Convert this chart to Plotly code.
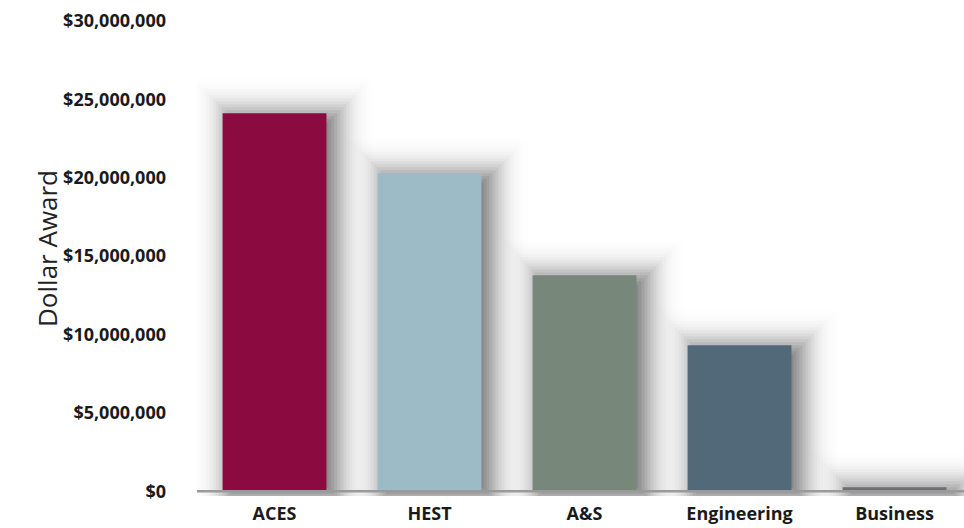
import math
import plotly.graph_objects as go

categories = ["ACES", "HEST", "A&S", "Engineering", "Business"]
awards = [24120000, 20290000, 13780000, 9320000, 260000]
colors = ["#8B0B41", "#9DBBC6", "#77887A", "#526979", "#6E6E73"]
tick_values = [0, 5000000, 10000000, 15000000, 20000000, 25000000, 30000000]
tick_labels = ["$0", "$5,000,000", "$10,000,000", "$15,000,000", "$20,000,000", "$25,000,000", "$30,000,000"]

fig = go.Figure()

bar_w = 0.67
# pixel -> axis unit conversions (plot: 155 px per category, ~15.67 px per $1M)
px_x = 1.0 / 155.0
px_y = 1e6 / 15.667

# soft drop shadow built from nested translucent bars
sigma = 16.0
dx, dy = 8.0, 3.0
amax = 0.66
step = 3.0
exps = [-45 + step * i for i in range(34)]  # expansions in px


def target(e):
    return amax * 0.5 * math.erfc(e / (sigma * math.sqrt(2)))


D = [target(e - step / 2) for e in exps] + [0.0]
alphas = []
for k in range(len(exps)):
    a = 1 - (1 - D[k]) / (1 - D[k + 1])
    alphas.append(max(a, 0.0))

for k in range(len(exps) - 1, -1, -1):
    e = exps[k]
    tops = [v - dy * px_y + e * px_y for v in awards]
    bottom = -dy * px_y - e * px_y
    heights = [max(t - bottom, 0) for t in tops]
    w = bar_w + 2 * e * px_x
    if w <= 0:
        continue
    fig.add_trace(go.Bar(
        x=categories,
        y=heights,
        base=[bottom] * len(awards),
        width=w,
        offset=-w / 2 + dx * px_x,
        marker=dict(color="black", opacity=alphas[k], line=dict(width=0)),
        hoverinfo="skip",
        showlegend=False,
    ))

fig.add_trace(go.Bar(
    x=categories,
    y=awards,
    width=bar_w,
    marker=dict(color=colors, line=dict(width=0)),
    showlegend=False,
))

fig.add_shape(type="line", xref="paper", yref="y", x0=0, x1=1, y0=0, y1=0,
              line=dict(color="#9A9A9A", width=2.5), layer="above")

fig.add_annotation(text="Dollar Award", xref="paper", yref="paper",
                   x=-0.2217, y=0.522, textangle=-90, showarrow=False,
                   font=dict(family="Open Sans, sans-serif", size=26, color="#222222"))

fig.update_layout(
    width=964, height=528,
    margin=dict(l=197, r=0, t=21, b=32),
    paper_bgcolor="white", plot_bgcolor="white",
    barmode="overlay",
    font=dict(family="Open Sans, sans-serif", color="#1a1a1a"),
    xaxis=dict(
        range=[-0.5, 4.448], automargin=False,
        showgrid=False, showline=False, zeroline=False,
        tickfont=dict(size=18, weight="bold", color="#1a1a1a"),
        ticks="", ticklabelstandoff=5,
    ),
    yaxis=dict(
        range=[-300000, 30000000], automargin=False,
        tickvals=tick_values, ticktext=tick_labels,
        showgrid=False, showline=False, zeroline=False,
        tickfont=dict(size=18, weight="bold", color="#1a1a1a"),
        ticklabelstandoff=30,
    ),
)

fig.write_html("out.html", config={"displayModeBar": False},
               post_script="document.body.style.margin='0';document.body.style.overflow='hidden';")
